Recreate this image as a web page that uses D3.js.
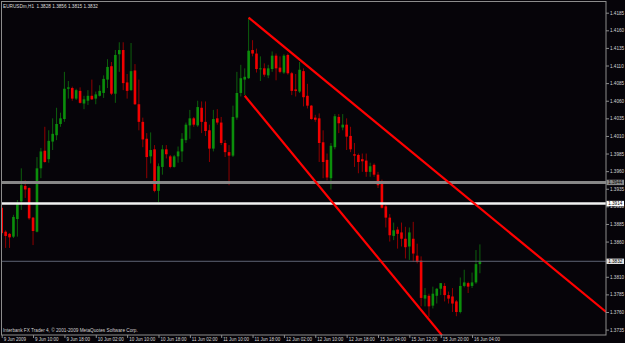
<!DOCTYPE html>
<html>
<head>
<meta charset="utf-8">
<title>EURUSDm,H1</title>
<script src="https://cdn.jsdelivr.net/npm/d3@7/dist/d3.min.js"></script>
<style>
  html, body { margin: 0; padding: 0; background: #060409; overflow: hidden; }
  svg { display: block; }
  text { font-family: "Liberation Sans", Arial, sans-serif; }
</style>
</head>
<body>
<svg class="chart"></svg>
<script>
// EURUSDm H1 bars, 9 Jun 2009 .. 16 Jun 2009 (bar 0 = first visible bar)
const symbol = "EURUSDm,H1";

const opens = [
  1.3908, 1.3874, 1.3871, 1.3867, 1.3892, 1.3917, 1.3939, 1.3936, 1.3894, 1.3874,
  1.3964, 1.3989, 1.3977, 1.4002, 1.4011, 1.4027, 1.4034, 1.4077, 1.4078, 1.4063,
  1.4074, 1.4056, 1.4060, 1.4067, 1.4063, 1.4067, 1.4071, 1.4090, 1.4109, 1.4070,
  1.4126, 1.4132, 1.4086, 1.4075, 1.4103, 1.4055, 1.4030, 1.4006, 1.3981, 1.3991,
  1.3932, 1.3966, 1.3991, 1.3981, 1.3966, 1.3981, 1.3988, 1.4004, 1.4025, 1.4035,
  1.4025, 1.4050, 1.4030, 1.4018, 1.3992, 1.4035, 1.4029, 1.4000, 1.3987, 1.3982,
  1.4036, 1.4071, 1.4090, 1.4092, 1.4132, 1.4127, 1.4105, 1.4106, 1.4096, 1.4105,
  1.4124, 1.4107, 1.4100, 1.4125, 1.4099, 1.4076, 1.4073, 1.4102, 1.4067, 1.4053,
  1.4036, 1.4035, 1.4001, 1.3976, 1.3950, 1.3994, 1.4037, 1.4022, 1.4026, 1.4010,
  1.3984, 1.3983, 1.3977, 1.3975, 1.3959, 1.3969, 1.3955, 1.3945, 1.3910, 1.3894,
  1.3868, 1.3877, 1.3873, 1.3864, 1.3853, 1.3864, 1.3840, 1.3833, 1.3779, 1.3783,
  1.3769, 1.3783, 1.3793, 1.3797, 1.3784, 1.3782, 1.3775, 1.3760, 1.3797, 1.3801,
  1.3797, 1.3802, 1.3828
];
const highs = [
  1.3912, 1.3876, 1.3872, 1.3898, 1.3919, 1.3964, 1.3947, 1.3937, 1.3895, 1.3980,
  1.3993, 1.4023, 1.4018, 1.4035, 1.4050, 1.4043, 1.4101, 1.4088, 1.4080, 1.4077,
  1.4079, 1.4067, 1.4075, 1.4090, 1.4073, 1.4082, 1.4096, 1.4119, 1.4115, 1.4132,
  1.4143, 1.4143, 1.4098, 1.4142, 1.4112, 1.4090, 1.4036, 1.4014, 1.4015, 1.3997,
  1.3971, 1.3997, 1.3997, 1.3983, 1.3983, 1.3995, 1.4014, 1.4029, 1.4047, 1.4037,
  1.4060, 1.4059, 1.4059, 1.4026, 1.4047, 1.4048, 1.4037, 1.4004, 1.3997, 1.4053,
  1.4101, 1.4111, 1.4106, 1.4178, 1.4146, 1.4134, 1.4123, 1.4113, 1.4111, 1.4130,
  1.4127, 1.4123, 1.4126, 1.4127, 1.4101, 1.4098, 1.4115, 1.4106, 1.4084, 1.4054,
  1.4040, 1.4042, 1.4018, 1.3985, 1.4000, 1.4041, 1.4041, 1.4041, 1.4035, 1.4023,
  1.4000, 1.3985, 1.3985, 1.3985, 1.3972, 1.3971, 1.3959, 1.3948, 1.3912, 1.3899,
  1.3887, 1.3881, 1.3887, 1.3881, 1.3880, 1.3888, 1.3857, 1.3839, 1.3794, 1.3786,
  1.3796, 1.3794, 1.3801, 1.3801, 1.3789, 1.3794, 1.3777, 1.3809, 1.3820, 1.3803,
  1.3816, 1.3848, 1.3856
];
const lows = [
  1.3869, 1.3851, 1.3851, 1.3865, 1.3867, 1.3905, 1.3922, 1.3891, 1.3855, 1.3873,
  1.3950, 1.3972, 1.3972, 1.3990, 1.4004, 1.4023, 1.4030, 1.4063, 1.4060, 1.4061,
  1.4056, 1.4048, 1.4054, 1.4061, 1.4055, 1.4066, 1.4064, 1.4078, 1.4068, 1.4057,
  1.4101, 1.4075, 1.4063, 1.4074, 1.4054, 1.4018, 1.3994, 1.3950, 1.3971, 1.3930,
  1.3916, 1.3955, 1.3978, 1.3964, 1.3965, 1.3972, 1.3973, 1.4000, 1.4006, 1.4023,
  1.4023, 1.4014, 1.4010, 1.3973, 1.3988, 1.4026, 1.3997, 1.3980, 1.3940, 1.3980,
  1.4033, 1.4066, 1.4068, 1.4091, 1.4123, 1.4100, 1.4088, 1.4094, 1.4092, 1.4101,
  1.4089, 1.4099, 1.4098, 1.4097, 1.4068, 1.4066, 1.4071, 1.4052, 1.4049, 1.4033,
  1.4030, 1.3973, 1.3950, 1.3947, 1.3934, 1.3991, 1.4014, 1.4018, 1.3990, 1.3987,
  1.3966, 1.3957, 1.3959, 1.3952, 1.3952, 1.3952, 1.3936, 1.3907, 1.3880, 1.3860,
  1.3862, 1.3850, 1.3853, 1.3836, 1.3834, 1.3831, 1.3829, 1.3768, 1.3768, 1.3753,
  1.3765, 1.3772, 1.3784, 1.3775, 1.3772, 1.3760, 1.3754, 1.3758, 1.3795, 1.3787,
  1.3794, 1.3800, 1.3815
];
const closes = [
  1.3872, 1.3868, 1.3866, 1.3895, 1.3915, 1.3940, 1.3934, 1.3893, 1.3875, 1.3964,
  1.3988, 1.3973, 1.4003, 1.4013, 1.4027, 1.4035, 1.4077, 1.4079, 1.4063, 1.4075,
  1.4057, 1.4062, 1.4067, 1.4062, 1.4069, 1.4074, 1.4091, 1.4108, 1.4070, 1.4125,
  1.4132, 1.4085, 1.4074, 1.4102, 1.4055, 1.4030, 1.4005, 1.3980, 1.3990, 1.3932,
  1.3967, 1.3991, 1.3984, 1.3966, 1.3981, 1.3988, 1.4006, 1.4026, 1.4035, 1.4026,
  1.4051, 1.4030, 1.4017, 1.3992, 1.4034, 1.4029, 1.4000, 1.3987, 1.3982, 1.4037,
  1.4071, 1.4092, 1.4094, 1.4131, 1.4127, 1.4105, 1.4106, 1.4097, 1.4106, 1.4124,
  1.4106, 1.4101, 1.4124, 1.4099, 1.4074, 1.4074, 1.4104, 1.4065, 1.4053, 1.4034,
  1.4033, 1.4000, 1.3973, 1.3951, 1.3996, 1.4038, 1.4028, 1.4026, 1.4009, 1.3991,
  1.3982, 1.3973, 1.3974, 1.3959, 1.3967, 1.3955, 1.3940, 1.3908, 1.3894, 1.3869,
  1.3876, 1.3871, 1.3864, 1.3852, 1.3873, 1.3843, 1.3831, 1.3780, 1.3784, 1.3768,
  1.3786, 1.3793, 1.3801, 1.3784, 1.3779, 1.3772, 1.3760, 1.3797, 1.3802, 1.3796,
  1.3802, 1.3828, 1.3832
];

const timeTickBars = [0, 8, 16, 24, 32, 40, 48, 56, 64, 72, 80, 88, 96, 104, 112, 120];
const timeTickLabels = [
  "9 Jun 2009", "9 Jun 10:00", "9 Jun 18:00", "10 Jun 02:00", "10 Jun 10:00",
  "10 Jun 18:00", "11 Jun 02:00", "11 Jun 10:00", "11 Jun 18:00", "12 Jun 02:00",
  "12 Jun 10:00", "12 Jun 18:00", "15 Jun 04:00", "15 Jun 12:00", "15 Jun 20:00",
  "16 Jun 04:00"
];
// 1.3835 sits under the bid box and is not shown
const priceTicks = [
  1.4185, 1.4160, 1.4135, 1.4110, 1.4085, 1.4060, 1.4035, 1.4010, 1.3985, 1.3960,
  1.3935, 1.3910, 1.3885, 1.3860, 1.3810, 1.3785, 1.3760, 1.3735
];

// horizontal lines drawn on the chart (gray, white)
const levelPrices = [1.3944, 1.3914];
// trend lines as [bar index, price] anchors
const channelUpper = [[63, 1.4178], [154.2, 1.3760]];
const channelLower = [[62, 1.4067], [112.3, 1.3727]];

const copyright = "Interbank FX Trader 4, \u00a9 2001-2009 MetaQuotes Software Corp.";

const width = 625, height = 343;
const frame = { left: 1.5, top: 1.5, right: 606, bottom: 335 };
const fmt = d3.format(".4f");

const svg = d3.select(".chart")
    .attr("width", width)
    .attr("height", height);

svg.append("rect")
    .attr("width", width)
    .attr("height", height)
    .attr("fill", "#060409");

const x = d3.scaleLinear()
    .domain([0, opens.length - 1])
    .range([1.7, 479.9]);

const y = d3.scaleLinear()
    .domain([1.3735, 1.4185])
    .range([329.6, 12.7]);

svg.append("clipPath")
    .attr("id", "plot-clip")
    .append("rect")
    .attr("x", frame.left)
    .attr("y", frame.top)
    .attr("width", frame.right - frame.left)
    .attr("height", frame.bottom - frame.top);

const plot = svg.append("g").attr("clip-path", "url(#plot-clip)");

const bars = opens.map((o, i) => ({
    i, o, h: highs[i], l: lows[i], c: closes[i], up: closes[i] >= o
}));

// candles
plot.selectAll(".wick")
    .data(bars)
    .enter().append("line")
    .attr("class", "wick")
    .attr("x1", d => x(d.i))
    .attr("x2", d => x(d.i))
    .attr("y1", d => y(d.h))
    .attr("y2", d => y(d.l))
    .attr("stroke", d => d.up ? "#0d600d" : "#900000")
    .attr("stroke-width", 1);

plot.selectAll(".body")
    .data(bars)
    .enter().append("rect")
    .attr("class", "body")
    .attr("x", d => x(d.i) - 1.3)
    .attr("width", 2.6)
    .attr("y", d => y(Math.max(d.o, d.c)))
    .attr("height", d => Math.max(1, Math.abs(y(d.o) - y(d.c))))
    .attr("fill", d => d.up ? "#0b8e0b" : "#f20000");

// horizontal levels
const levelStyles = [
    { stroke: "#878787", width: 3, box: "#8a8a8a" },
    { stroke: "#f2f2f2", width: 2.6, box: "#ffffff" }
];
plot.selectAll(".level")
    .data(levelPrices)
    .enter().append("line")
    .attr("class", "level")
    .attr("x1", frame.left)
    .attr("x2", frame.right)
    .attr("y1", d => y(d))
    .attr("y2", d => y(d))
    .attr("stroke", (d, i) => levelStyles[i].stroke)
    .attr("stroke-width", (d, i) => levelStyles[i].width);

// bid line
const bid = closes[closes.length - 1];
plot.append("line")
    .attr("x1", frame.left)
    .attr("x2", frame.right)
    .attr("y1", y(bid))
    .attr("y2", y(bid))
    .attr("stroke", "#5d6474")
    .attr("stroke-width", 1);

// channel lines
const line = d3.line()
    .x(d => x(d[0]))
    .y(d => y(d[1]));

plot.selectAll(".trend")
    .data([channelUpper, channelLower])
    .enter().append("path")
    .attr("class", "trend")
    .attr("d", line)
    .attr("fill", "none")
    .attr("stroke", "#ff0000")
    .attr("stroke-width", 2.2);

// frame
svg.append("rect")
    .attr("x", frame.left)
    .attr("y", frame.top)
    .attr("width", frame.right - frame.left)
    .attr("height", frame.bottom - frame.top)
    .attr("fill", "none")
    .attr("stroke", "#8c8c8c")
    .attr("stroke-width", 1);

// price axis
svg.append("g")
    .attr("transform", `translate(${frame.right}, 0)`)
    .call(d3.axisRight(y).tickValues(priceTicks).tickSize(3).tickPadding(1).tickFormat(fmt))
    .call(g => g.select(".domain").remove())
    .attr("color", "#8c8c8c")
    .attr("font-size", 4.6)
    .attr("font-family", "Liberation Sans, Arial, sans-serif")
    .call(g => g.selectAll("text").attr("fill", "#d6d6d6"));

// time axis
svg.append("g")
    .attr("transform", `translate(0, ${frame.bottom})`)
    .call(d3.axisBottom(x).tickValues(timeTickBars).tickSize(3)
        .tickFormat(d => timeTickLabels[timeTickBars.indexOf(d)]))
    .call(g => g.select(".domain").remove())
    .attr("color", "#8c8c8c")
    .attr("font-size", 4.5)
    .attr("font-family", "Liberation Sans, Arial, sans-serif")
    .call(g => g.selectAll("text")
        .attr("fill", "#d6d6d6")
        .attr("x", 1.5)
        .attr("y", 5.6)
        .attr("dy", null)
        .attr("text-anchor", "start"));

// price boxes on the axis
const boxes = [
    { p: levelPrices[0], fill: levelStyles[0].box },
    { p: levelPrices[1], fill: levelStyles[1].box },
    { p: bid, fill: "#e2e2e2" }
];
const boxG = svg.selectAll(".pbox")
    .data(boxes)
    .enter().append("g")
    .attr("class", "pbox")
    .attr("transform", d => `translate(${frame.right + 0.5}, ${y(d.p)})`);

boxG.append("rect")
    .attr("x", 0)
    .attr("y", -2.7)
    .attr("width", 17.5)
    .attr("height", 5.4)
    .attr("fill", d => d.fill);

boxG.append("text")
    .attr("x", 8.75)
    .attr("dy", "0.34em")
    .attr("text-anchor", "middle")
    .attr("font-size", 4.6)
    .attr("fill", "#000")
    .text(d => fmt(d.p));

// header and footer text
const last = bars[bars.length - 1];
svg.append("text")
    .attr("x", 3)
    .attr("y", 7.6)
    .attr("font-size", 4.7)
    .attr("fill", "#dcdcdc")
    .style("white-space", "pre")
    .text(`${symbol}  ${fmt(last.o)} ${fmt(last.h)} ${fmt(last.l)} ${fmt(last.c)}`);

svg.append("text")
    .attr("x", 3)
    .attr("y", 332.3)
    .attr("font-size", 4.7)
    .attr("fill", "#d2d2d2")
    .text(copyright);
</script>
</body>
</html>
